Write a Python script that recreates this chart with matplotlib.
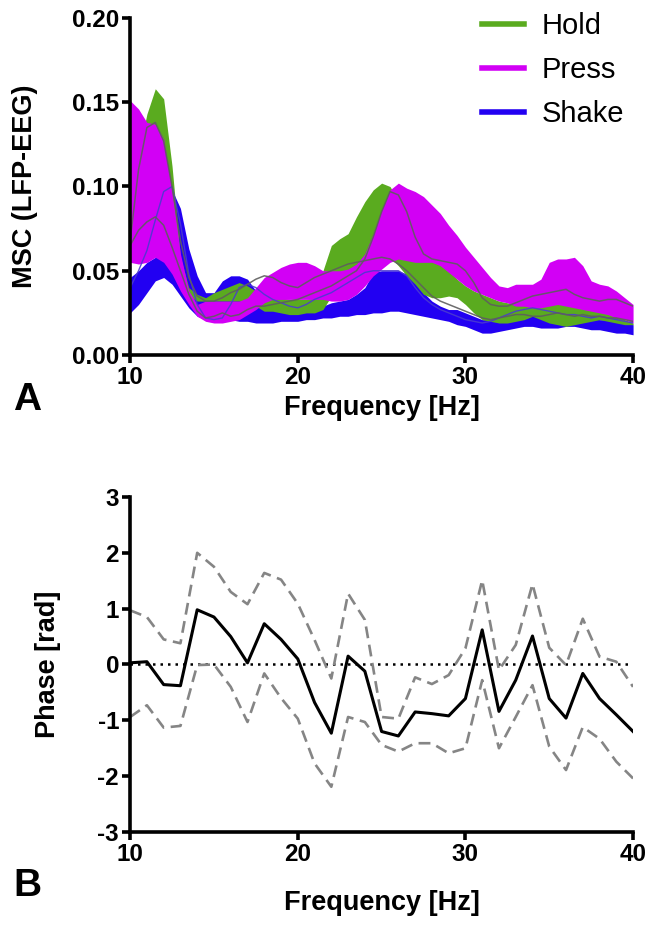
import numpy as np
import matplotlib
matplotlib.use("Agg")
import matplotlib.pyplot as plt
from matplotlib.lines import Line2D

plt.rcParams["font.family"] = ["Liberation Sans", "DejaVu Sans"]
plt.rcParams["axes.unicode_minus"] = False

# === data: panel A (MSC bands, 0.5 Hz grid) ===
freq_a = np.arange(10, 40.5, 0.5)

hold_upper = [0.090, 0.120, 0.143, 0.158, 0.152, 0.112, 0.058, 0.040, 0.036, 0.034,
              0.037, 0.039, 0.041, 0.043, 0.041, 0.038, 0.035, 0.035, 0.034, 0.033,
              0.033, 0.033, 0.034, 0.050, 0.065, 0.069, 0.072, 0.082, 0.091, 0.098,
              0.102, 0.100, 0.092, 0.080, 0.068, 0.058, 0.057, 0.055, 0.050, 0.045,
              0.041, 0.038, 0.036, 0.034, 0.032, 0.031, 0.030, 0.030, 0.029, 0.029,
              0.030, 0.031, 0.031, 0.030, 0.029, 0.027, 0.026, 0.025, 0.023, 0.021,
              0.019]
hold_lower = [0.060, 0.080, 0.100, 0.115, 0.100, 0.070, 0.045, 0.035, 0.032, 0.032,
              0.032, 0.032, 0.032, 0.032, 0.031, 0.029, 0.026, 0.026, 0.025, 0.024,
              0.024, 0.025, 0.025, 0.027, 0.035, 0.040, 0.045, 0.050, 0.055, 0.058,
              0.060, 0.058, 0.053, 0.047, 0.042, 0.036, 0.034, 0.034, 0.035, 0.034,
              0.030, 0.025, 0.021, 0.020, 0.019, 0.019, 0.020, 0.021, 0.023, 0.021,
              0.019, 0.018, 0.017, 0.018, 0.019, 0.020, 0.021, 0.020, 0.019, 0.018,
              0.018]
press_upper = [0.151, 0.146, 0.138, 0.137, 0.128, 0.097, 0.060, 0.038, 0.030, 0.032,
               0.032, 0.032, 0.032, 0.032, 0.034, 0.040, 0.046, 0.049, 0.052, 0.054,
               0.055, 0.055, 0.053, 0.050, 0.050, 0.050, 0.051, 0.054, 0.060, 0.072,
               0.086, 0.098, 0.102, 0.099, 0.097, 0.094, 0.089, 0.084, 0.077, 0.071,
               0.064, 0.058, 0.052, 0.046, 0.041, 0.040, 0.042, 0.042, 0.042, 0.045,
               0.055, 0.057, 0.057, 0.058, 0.053, 0.044, 0.042, 0.041, 0.038, 0.034,
               0.030]
press_lower = [0.055, 0.054, 0.055, 0.058, 0.055, 0.048, 0.038, 0.030, 0.023, 0.020,
               0.019, 0.019, 0.020, 0.021, 0.024, 0.027, 0.031, 0.033, 0.033, 0.033,
               0.033, 0.033, 0.033, 0.033, 0.032, 0.032, 0.033, 0.036, 0.041, 0.047,
               0.051, 0.055, 0.057, 0.056, 0.055, 0.055, 0.055, 0.053, 0.049, 0.045,
               0.041, 0.038, 0.036, 0.034, 0.032, 0.031, 0.029, 0.029, 0.028, 0.028,
               0.029, 0.030, 0.029, 0.028, 0.027, 0.026, 0.025, 0.024, 0.022, 0.021,
               0.019]
shake_upper = [0.046, 0.050, 0.055, 0.058, 0.100, 0.098, 0.087, 0.063, 0.047, 0.037,
               0.037, 0.044, 0.047, 0.047, 0.045, 0.038, 0.028, 0.027, 0.027, 0.027,
               0.027, 0.027, 0.028, 0.029, 0.031, 0.032, 0.033, 0.036, 0.040, 0.049,
               0.050, 0.050, 0.050, 0.048, 0.043, 0.037, 0.032, 0.029, 0.027, 0.027,
               0.025, 0.023, 0.021, 0.021, 0.021, 0.022, 0.022, 0.023, 0.024, 0.023,
               0.022, 0.022, 0.022, 0.022, 0.022, 0.022, 0.021, 0.021, 0.020, 0.019,
               0.018]
shake_lower = [0.025, 0.030, 0.037, 0.044, 0.046, 0.042, 0.035, 0.028, 0.023, 0.021,
               0.021, 0.021, 0.021, 0.020, 0.020, 0.019, 0.019, 0.019, 0.020, 0.020,
               0.020, 0.021, 0.021, 0.022, 0.022, 0.023, 0.023, 0.024, 0.024, 0.025,
               0.025, 0.026, 0.026, 0.025, 0.024, 0.023, 0.022, 0.021, 0.020, 0.018,
               0.017, 0.015, 0.013, 0.013, 0.014, 0.015, 0.016, 0.017, 0.017, 0.016,
               0.016, 0.016, 0.017, 0.017, 0.016, 0.015, 0.015, 0.014, 0.013, 0.013,
               0.012]

hold_mean = [0.068, 0.110, 0.135, 0.138, 0.127, 0.100, 0.068, 0.046, 0.035, 0.032,
             0.032, 0.034, 0.037, 0.039, 0.042, 0.045, 0.047, 0.046, 0.043, 0.041,
             0.040, 0.043, 0.046, 0.048, 0.050, 0.052, 0.054, 0.055, 0.056, 0.057,
             0.058, 0.057, 0.054, 0.050, 0.045, 0.040, 0.035, 0.032, 0.030, 0.028,
             0.026, 0.024, 0.022, 0.021, 0.022, 0.023, 0.024, 0.024, 0.023, 0.023,
             0.024, 0.025, 0.024, 0.023, 0.024, 0.023, 0.023, 0.022, 0.022, 0.021,
             0.020]
press_mean = [0.065, 0.074, 0.079, 0.082, 0.077, 0.064, 0.050, 0.036, 0.026, 0.022,
              0.023, 0.025, 0.023, 0.024, 0.027, 0.029, 0.029, 0.030, 0.031, 0.032,
              0.033, 0.035, 0.037, 0.039, 0.041, 0.044, 0.047, 0.050, 0.057, 0.070,
              0.085, 0.097, 0.095, 0.085, 0.070, 0.060, 0.057, 0.056, 0.055, 0.054,
              0.050, 0.043, 0.034, 0.030, 0.029, 0.029, 0.031, 0.033, 0.035, 0.036,
              0.037, 0.038, 0.039, 0.036, 0.034, 0.033, 0.032, 0.033, 0.033, 0.031,
              0.029]
shake_mean = [0.040, 0.050, 0.062, 0.080, 0.097, 0.100, 0.078, 0.048, 0.030, 0.022,
              0.021, 0.022, 0.030, 0.040, 0.042, 0.040, 0.036, 0.033, 0.031, 0.029,
              0.028, 0.030, 0.033, 0.035, 0.037, 0.040, 0.043, 0.046, 0.049, 0.050,
              0.050, 0.050, 0.050, 0.047, 0.040, 0.034, 0.030, 0.027, 0.025, 0.023,
              0.021, 0.020, 0.019, 0.020, 0.022, 0.024, 0.026, 0.027, 0.028, 0.027,
              0.026, 0.025, 0.024, 0.024, 0.023, 0.022, 0.023, 0.022, 0.021, 0.020,
              0.019]

# === data: panel B (phase, 1 Hz) ===
freq_b = np.arange(10, 41)
phase_mean = [0.03, 0.05, -0.36, -0.38, 0.98, 0.85, 0.50, 0.03, 0.73, 0.45,
              0.10, -0.68, -1.23, 0.15, -0.12, -1.20, -1.28, -0.85, -0.88, -0.92,
              -0.61, 0.62, -0.84, -0.28, 0.51, -0.61, -0.96, -0.16, -0.61, -0.90,
              -1.20]
phase_upper = [0.97, 0.85, 0.45, 0.38, 2.00, 1.75, 1.30, 1.08, 1.64, 1.52,
               1.09, 0.44, -0.25, 1.27, 0.80, -0.94, -0.97, -0.23, -0.35, -0.19,
               0.29, 1.51, -0.10, 0.35, 1.44, 0.30, -0.01, 0.82, 0.14, 0.05,
               -0.40]
phase_lower = [-0.94, -0.73, -1.13, -1.10, -0.01, 0.00, -0.40, -1.03, -0.16, -0.60,
               -0.97, -1.77, -2.19, -0.94, -1.03, -1.44, -1.56, -1.41, -1.41, -1.59,
               -1.50, -0.28, -1.50, -0.94, -0.37, -1.47, -1.89, -1.12, -1.33, -1.74,
               -2.04]

green = "#5aab1f"
magenta = "#d200f5"
blue = "#2200f2"

# === figure ===
fig = plt.figure(figsize=(6.54, 9.26), dpi=100)
axA = fig.add_axes([0.199, 0.6166, 0.769, 0.364])
axB = fig.add_axes([0.199, 0.1015, 0.769, 0.3618])


def style(ax):
    for s in ["top", "right"]:
        ax.spines[s].set_visible(False)
    for s in ["left", "bottom"]:
        ax.spines[s].set_linewidth(2.6)
    ax.tick_params(direction="out", length=6, width=2.6, labelsize=17.5, pad=2)
    for lab in ax.get_xticklabels() + ax.get_yticklabels():
        lab.set_fontweight("bold")


# panel A
axA.fill_between(freq_a, shake_lower, shake_upper, color=blue, lw=0)
axA.fill_between(freq_a, hold_lower, hold_upper, color=green, lw=0)
axA.fill_between(freq_a, press_lower, press_upper, color=magenta, lw=0)
axA.plot(freq_a, shake_mean, color="#4a3ad0", lw=1.0, alpha=0.9)
axA.plot(freq_a, hold_mean, color="#5e5e5e", lw=1.1, alpha=0.9)
axA.plot(freq_a, press_mean, color="#5e5e5e", lw=1.1, alpha=0.9)
axA.set_xlim(10, 40)
axA.set_ylim(0, 0.2)
axA.set_xticks([10, 20, 30, 40])
axA.set_yticks([0, 0.05, 0.10, 0.15, 0.20])
axA.set_yticklabels(["0.00", "0.05", "0.10", "0.15", "0.20"])
style(axA)
axA.set_xlabel("Frequency [Hz]", fontsize=19.5, fontweight="bold", labelpad=4)
axA.set_ylabel("MSC (LFP-EEG)", fontsize=19.5, fontweight="bold", labelpad=24)

handles = [Line2D([], [], color=c, lw=4) for c in (green, magenta, blue)]
axA.legend(handles, ["Hold", "Press", "Shake"], loc="upper right",
           bbox_to_anchor=(1.035, 1.095), frameon=False, fontsize=21,
           handlelength=1.45, handletextpad=0.6, labelspacing=0.55)

# panel B
axB.axhline(0, color="black", lw=1.8, ls=(0, (1, 2)))
axB.plot(freq_b, phase_upper, color="#858585", lw=1.9, ls=(0, (4.5, 2.5)))
axB.plot(freq_b, phase_lower, color="#858585", lw=1.9, ls=(0, (4.5, 2.5)))
axB.plot(freq_b, phase_mean, color="black", lw=2.2)
axB.set_xlim(10, 40)
axB.set_ylim(-3, 3)
axB.set_xticks([10, 20, 30, 40])
axB.set_yticks([-3, -2, -1, 0, 1, 2, 3])
style(axB)
axB.set_xlabel("Frequency [Hz]", fontsize=19.5, fontweight="bold", labelpad=17)
axB.set_ylabel("Phase [rad]", fontsize=19.5, fontweight="bold", labelpad=26)

fig.text(0.02, 0.557, "A", fontsize=28, fontweight="bold")
fig.text(0.02, 0.032, "B", fontsize=28, fontweight="bold")

fig.savefig("out.png", dpi=100)
